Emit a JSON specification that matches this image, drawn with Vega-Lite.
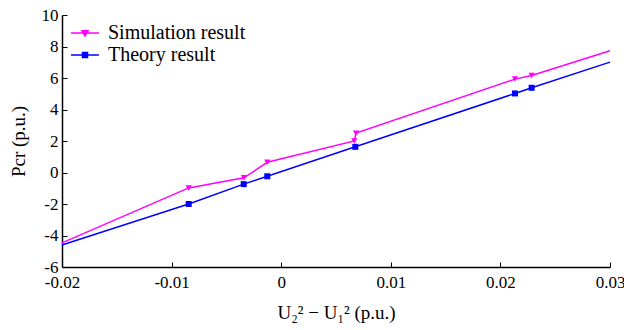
{
  "$schema": "https://vega.github.io/schema/vega-lite/v6.json",
  "width": 548,
  "height": 252,
  "autosize": "none",
  "padding": {"left": 62, "top": 15, "right": 14, "bottom": 63},
  "background": "white",
  "config": {
    "view": {"stroke": null},
    "font": "Liberation Serif",
    "axis": {
      "labelFont": "Liberation Serif",
      "titleFont": "Liberation Serif",
      "labelFontSize": 17,
      "titleFontSize": 19,
      "labelColor": "black",
      "titleColor": "black",
      "domainColor": "black",
      "tickColor": "black",
      "domainWidth": 1.5,
      "tickWidth": 1,
      "grid": false,
      "titleFontWeight": "normal"
    }
  },
  "data": {
    "values": [
      {"x": -0.02, "y": -4.47, "series": "Simulation result"},
      {"x": -0.00844, "y": -0.98, "series": "Simulation result"},
      {"x": -0.0034, "y": -0.34, "series": "Simulation result"},
      {"x": -0.00127, "y": 0.65, "series": "Simulation result"},
      {"x": 0.00667, "y": 2.0, "series": "Simulation result"},
      {"x": 0.00683, "y": 2.5, "series": "Simulation result"},
      {"x": 0.02133, "y": 5.93, "series": "Simulation result"},
      {"x": 0.02285, "y": 6.16, "series": "Simulation result"},
      {"x": 0.03, "y": 7.73, "series": "Simulation result"},
      {"x": -0.02, "y": -4.6, "series": "Theory result"},
      {"x": -0.00844, "y": -2.0, "series": "Theory result"},
      {"x": -0.00342, "y": -0.74, "series": "Theory result"},
      {"x": -0.00127, "y": -0.24, "series": "Theory result"},
      {"x": 0.00676, "y": 1.63, "series": "Theory result"},
      {"x": 0.02133, "y": 5.02, "series": "Theory result"},
      {"x": 0.02285, "y": 5.38, "series": "Theory result"},
      {"x": 0.03, "y": 7.01, "series": "Theory result"}
    ]
  },
  "encoding": {
    "x": {
      "field": "x",
      "type": "quantitative",
      "scale": {"domain": [-0.02, 0.03], "nice": false, "zero": false},
      "axis": {
        "values": [-0.02, -0.01, 0, 0.01, 0.02, 0.03],
        "labelExpr": "replace(format(datum.value, '~g'), '\u2212', '-')",
        "tickSize": -5,
        "labelPadding": 12,
        "title": "U₂² − U₁² (p.u.)",
        "titlePadding": 13,
        "labelFlush": false,
        "labelOverlap": false
      }
    },
    "y": {
      "field": "y",
      "type": "quantitative",
      "scale": {"domain": [-6, 10], "nice": false, "zero": false},
      "axis": {
        "values": [-6, -4, -2, 0, 2, 4, 6, 8, 10],
        "labelExpr": "replace(format(datum.value, '~g'), '\u2212', '-')",
        "tickSize": -5,
        "labelPadding": 9,
        "title": "Pcr (p.u.)",
        "titlePadding": 13,
        "labelFlush": false,
        "labelOverlap": false
      }
    }
  },
  "layer": [
    {
      "mark": {"type": "line", "strokeWidth": 1.5},
      "encoding": {
        "color": {
          "field": "series",
          "type": "nominal",
          "scale": {"domain": ["Simulation result", "Theory result"], "range": ["#ff00ff", "#0000ff"]},
          "legend": {
            "orient": "none",
            "legendX": 11,
            "legendY": 6,
            "title": null,
            "padding": 0,
            "symbolSize": 484,
            "symbolStrokeWidth": 1.5,
            "labelFont": "Liberation Serif",
            "labelFontSize": 20,
            "labelColor": "black",
            "labelOffset": 11,
            "rowPadding": 0,
            "encode": {
              "symbols": {
                "update": {
                  "shape": {"signal": "datum.value === 'Simulation result' ? 'M-1.27,0H1.27M-0.28,-0.2L0.28,-0.2L0,0.28Z' : 'M-1.27,0H1.27M-0.23,-0.23H0.23V0.23H-0.23Z'"},
                  "fill": {"signal": "datum.value === 'Simulation result' ? '#ff00ff' : '#0000ff'"},
                  "stroke": {"signal": "datum.value === 'Simulation result' ? '#ff00ff' : '#0000ff'"},
                  "fillOpacity": {"value": 1},
                  "strokeWidth": {"value": 1.5}
                }
              }
            }
          }
        }
      }
    },
    {
      "transform": [{"filter": "datum.x > -0.02 && datum.x < 0.03 && datum.series === 'Simulation result'"}],
      "mark": {"type": "point", "filled": true, "opacity": 1, "size": 40, "shape": "triangle-down", "color": "#ff00ff"}
    },
    {
      "transform": [{"filter": "datum.x > -0.02 && datum.x < 0.03 && datum.series === 'Theory result'"}],
      "mark": {"type": "point", "filled": true, "opacity": 1, "size": 36, "shape": "square", "color": "#0000ff"}
    }
  ]
}
